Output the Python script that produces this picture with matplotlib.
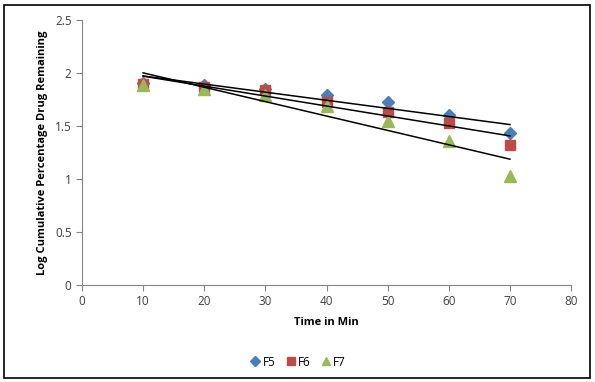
import numpy as np
import matplotlib
matplotlib.use('Agg')
from matplotlib import pyplot as plt
from matplotlib.patches import Rectangle

# data ####################################################################
time = [10, 20, 30, 40, 50, 60, 70]
f5 = [1.91, 1.89, 1.85, 1.79, 1.73, 1.60, 1.43]
f6 = [1.90, 1.87, 1.84, 1.73, 1.63, 1.53, 1.32]
f7 = [1.89, 1.85, 1.79, 1.69, 1.55, 1.36, 1.03]

plt.rcParams['font.family'] = ['Open Sans', 'DejaVu Sans']
plt.rcParams['font.size'] = 8

fig = plt.figure(figsize=(5.95, 3.82), dpi=100)
ax = fig.add_axes([82/595, 1-285/382, (571-82)/595, (285-20)/382])

# outer frame
fig.patches.append(Rectangle((4/595, 4/382), 586/595, 373/382, transform=fig.transFigure,
                             fill=False, edgecolor='black', linewidth=1.2))

series = [(f5, 'F5', 'D', '#4a7ebb', 6), (f6, 'F6', 's', '#be4b48', 7), (f7, 'F7', '^', '#98b954', 8)]
t = np.array(time)
for vals, name, mk, col, ms in series:
    ax.plot(time, vals, linestyle='none', marker=mk, color=col, markersize=ms, label=name, zorder=3)
for vals, name, mk, col, ms in series:
    #linear trend line
    k, b = np.polyfit(t, vals, 1)
    ax.plot(t, k*t + b, color='black', linewidth=1.1, zorder=4)

ax.set_xlim(0, 80)
ax.set_ylim(0, 2.5)
ax.set_xticks(range(0, 81, 10))
ax.set_yticks([0, 0.5, 1, 1.5, 2, 2.5])
ax.set_yticklabels(['0', '0.5', '1', '1.5', '2', '2.5'])
for s in ['top', 'right']:
    ax.spines[s].set_visible(False)
for s in ['left', 'bottom']:
    ax.spines[s].set_color('#868686')
ax.tick_params(color='#868686', length=4, labelcolor='#404040', labelsize=8.5)
ax.set_xlabel('Time in Min', fontweight='bold', fontsize=8, labelpad=6)
ax.set_ylabel('Log Cumulative Percentage Drug Remaining', fontweight='bold', fontsize=8, labelpad=5)

fig.legend(loc='center', bbox_to_anchor=(0.5, 1-362/382), ncol=3, frameon=False, markerscale=0.8,
           handletextpad=0.1, columnspacing=0.8, handlelength=1, fontsize=8.5)

plt.savefig('out.png', dpi=100)
